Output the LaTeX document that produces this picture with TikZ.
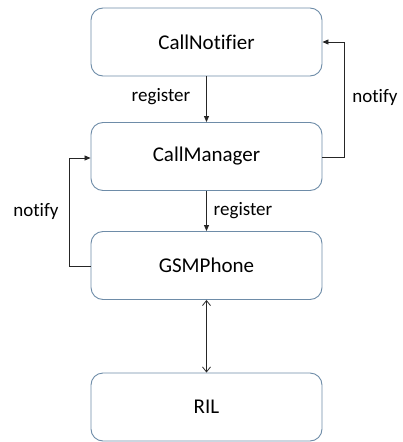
\documentclass[tikz,border=0pt]{standalone}
\usepackage{fontspec}
\setmainfont{Carlito}[Ligatures=NoCommon]
\usetikzlibrary{arrows.meta}
\definecolor{boxline}{RGB}{110,140,168}
\begin{document}
\begin{tikzpicture}[x=1pt,y=1pt,
  blk/.style={draw=boxline,line width=0.9pt,rounded corners=12pt,minimum width=231pt,minimum height=68pt,inner sep=0pt,font=\fontsize{21}{25}\selectfont,fill=white},
  lbl/.style={font=\fontsize{19}{23}\selectfont,inner sep=0pt},
  conn/.style={draw=black!85,line width=0.8pt},
  tip/.style={-{Triangle[length=6pt,width=5pt]}},
  opentip/.style={{Straight Barb[length=5pt,width=8pt]}-{Straight Barb[length=5pt,width=8pt]}}]
\useasboundingbox (0,0) rectangle (403,-442);
\node[blk] (cn) at (206.5,-42) {CallNotifier};
\node[blk] (cm) at (206.5,-156.5) {CallManager};
\node[blk] (gsm) at (206.5,-265.5) {GSMPhone};
\node[blk] (ril) at (206.5,-407) {RIL};
\coordinate (r1) at (344,-157);
\coordinate (r2) at (344,-42);
\coordinate (l1) at (69,-266);
\coordinate (l2) at (69,-158);
\draw[conn,tip] (cn.south) -- (cm.north);
\draw[conn,tip] (cm.south) -- (gsm.north);
\draw[conn,opentip] (gsm.south) -- (ril.north);
\draw[conn,tip] (cm.east |- r1) -- (r1) -- (r2) -- (cn.east |- r2);
\draw[conn,tip] (gsm.west |- l1) -- (l1) -- (l2) -- (cm.west |- l2);
\node[lbl] (reg1) at (161,-97) {register};
\node[lbl] (reg2) at (243,-211) {register};
\node[lbl] (not1) at (375,-97) {notify};
\node[lbl] (not2) at (36,-211) {notify};
\end{tikzpicture}
\end{document}
